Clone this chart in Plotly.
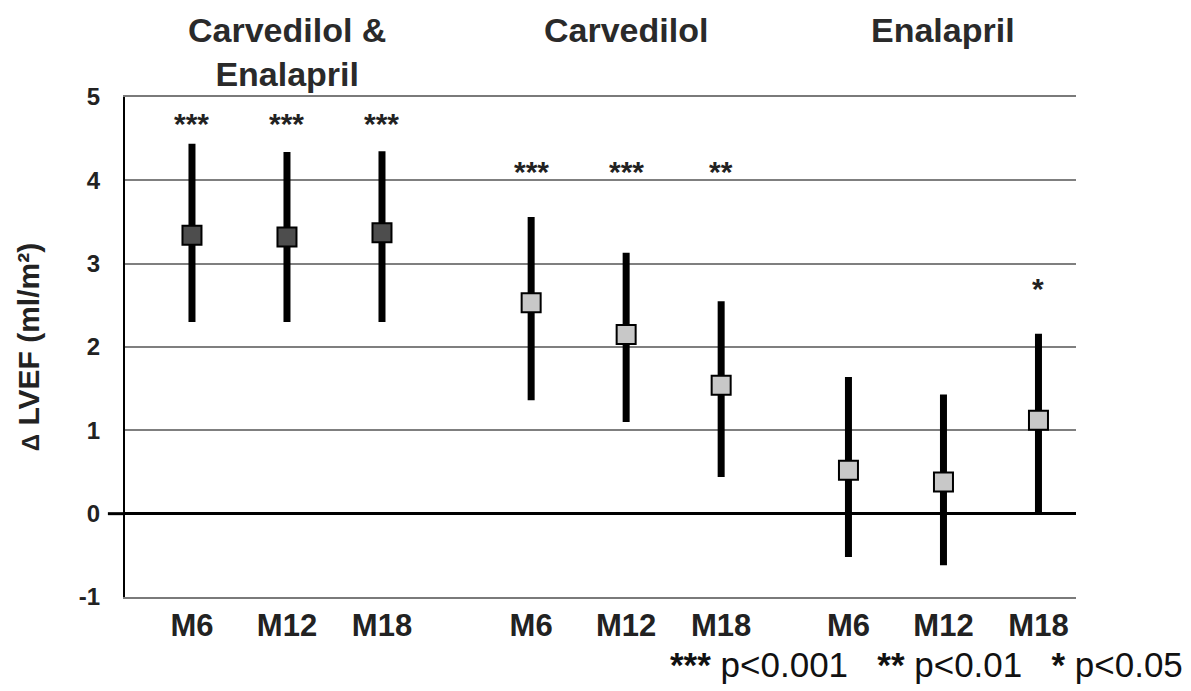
import plotly.graph_objects as go

# Change in LVEF by treatment arm and month of follow-up
groups = ["Carvedilol &<br>Enalapril", "Carvedilol", "Enalapril"]
months = ["M6", "M12", "M18"]

mean_change = [
    [3.34, 3.32, 3.37],
    [2.53, 2.15, 1.54],
    [0.52, 0.38, 1.12],
]
ci_upper = [
    [4.44, 4.34, 4.35],
    [3.56, 3.13, 2.55],
    [1.64, 1.43, 2.16],
]
ci_lower = [
    [2.30, 2.30, 2.30],
    [1.36, 1.10, 0.44],
    [-0.52, -0.62, 0.00],
]
significance = [
    ["***", "***", "***"],
    ["***", "***", "**"],
    ["", "", "*"],
]
marker_fill = ["#4d4d4d", "#c8c8c8", "#c8c8c8"]

# horizontal layout: start of each group on the numeric x axis
group_start = [0.0, 3.57, 6.91]

FONT = "Liberation Sans, Arial, sans-serif"

fig = go.Figure()
tick_vals, tick_text = [], []

for g, name in enumerate(groups):
    xs = [group_start[g] + i for i in range(len(months))]
    tick_vals += xs
    tick_text += [f"<b>{m}</b>" for m in months]
    ys = mean_change[g]
    plus = [u - y for u, y in zip(ci_upper[g], ys)]
    minus = [y - l for y, l in zip(ys, ci_lower[g])]
    fig.add_trace(go.Scatter(
        x=xs, y=ys, mode="markers", showlegend=False,
        marker=dict(symbol="square", size=19, color=marker_fill[g],
                    line=dict(color="black", width=2)),
        error_y=dict(type="data", symmetric=False, array=plus,
                     arrayminus=minus, color="black", thickness=7, width=0),
    ))
    # significance stars above the intervals
    star_y = min(max(ci_upper[g]) + 0.62, 4.75)
    for x, s in zip(xs, significance[g]):
        if s:
            fig.add_annotation(x=x, y=star_y, text=f"<b>{s}</b>", showarrow=False,
                               yshift=-6, font=dict(family=FONT, size=30, color="#222"))
    # group heading
    fig.add_annotation(x=group_start[g] + 1, xref="x", yref="paper",
                       y=1.09 if "<br>" in name else 1.134, yanchor="middle",
                       text=f"<b>{name}</b>", showarrow=False,
                       font=dict(family=FONT, size=34, color="#2a2a2a"))

# short tick marking zero on the y axis
fig.add_shape(type="line", xref="paper", yref="y", x0=-0.018, x1=0, y0=0, y1=0,
              line=dict(color="black", width=3))

fig.add_annotation(xref="paper", yref="paper", x=1.1146, y=-0.135,
                   xanchor="right", yanchor="middle", showarrow=False,
                   text="<b>***</b> p&lt;0.001   <b>**</b> p&lt;0.01   <b>*</b> p&lt;0.05",
                   font=dict(family=FONT, size=35, color="#111"))

fig.update_layout(
    width=1191, height=691,
    margin=dict(l=125, r=115, t=97, b=94),
    plot_bgcolor="white", paper_bgcolor="white",
    font=dict(family=FONT, color="#222"),
    xaxis=dict(range=[-0.705, 9.305], tickvals=tick_vals, ticktext=tick_text,
               showgrid=False, zeroline=False, showline=True, mirror=True,
               linecolor="#7a7a7a", linewidth=2, ticks="",
               tickfont=dict(family=FONT, size=31, color="#222")),
    yaxis=dict(range=[-1, 5], tickvals=[-1, 0, 1, 2, 3, 4, 5],
               ticktext=[f"<b>{v}</b>" for v in [-1, 0, 1, 2, 3, 4, 5]],
               showgrid=True, gridcolor="#7f7f7f", gridwidth=2,
               zeroline=True, zerolinecolor="black", zerolinewidth=3,
               showline=True, linecolor="black", linewidth=2, ticks="",
               ticklabelstandoff=18,
               tickfont=dict(family=FONT, size=24, color="#222"),
               title=dict(text="<b><span style=\"font-size:24px\">\u0394</span> LVEF (ml/m\u00b2)</b>",
                          standoff=30,
                          font=dict(family=FONT, size=30, color="#222"))),
)

fig.write_html("out.html")
